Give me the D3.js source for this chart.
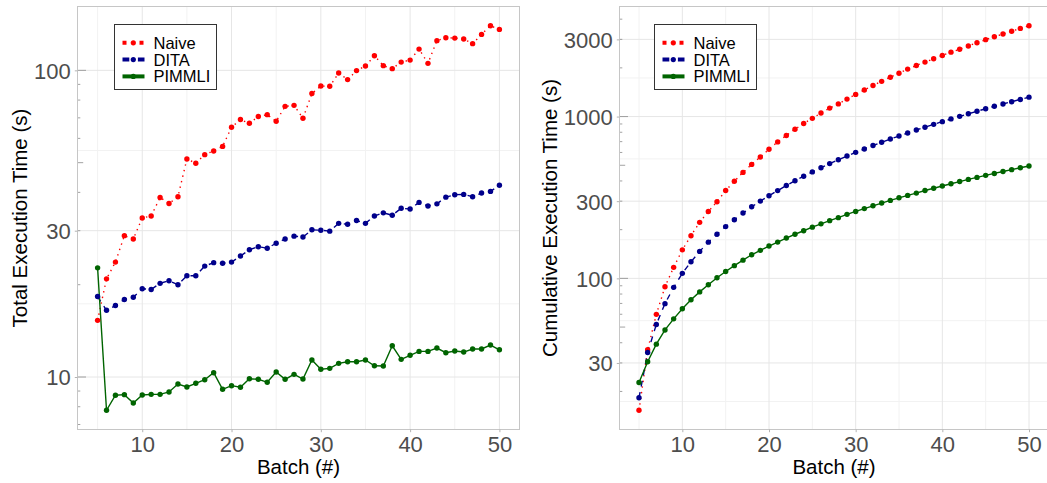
<!DOCTYPE html>
<html><head><meta charset="utf-8">
<script src="https://cdn.jsdelivr.net/npm/d3@7"></script>
<style>
body{margin:0;background:#fff}
svg{display:block}
text{font-family:"Liberation Sans",Arial,Helvetica,sans-serif}
</style>
</head><body>
<svg id="chart" width="1047" height="483"></svg>
<script>
// ---------------- data ----------------
const batches = [5,6,7,8,9,10,11,12,13,14,15,16,17,18,19,20,21,22,23,24,25,26,27,28,29,30,
  31,32,33,34,35,36,37,38,39,40,41,42,43,44,45,46,47,48,49,50];
const seriesNames = ["Naive","DITA","PIMMLI"];

const naiveTotal = [15.3,20.9,23.7,28.9,28.2,33.0,33.5,38.5,36.8,38.7,51.4,49.8,53.1,54.6,56.5,65.2,
  69.1,67.2,70.7,71.7,68.2,76.3,76.9,69.8,84.0,88.9,88.7,98.0,93.3,99.8,103.3,111.6,103.6,101.3,
  106.4,108.0,117.3,105.4,125.0,127.8,127.4,126.5,122.2,131.0,139.8,136.0];
const ditaTotal = [18.3,16.5,17.1,17.9,18.2,19.4,19.3,20.2,20.6,20.0,21.4,21.4,23.0,23.6,23.5,23.7,
  24.8,26.0,26.6,26.3,27.3,28.2,28.8,28.6,30.2,30.1,29.9,31.7,31.5,32.4,31.7,33.5,34.3,33.7,
  35.5,35.3,37.1,36.1,36.7,38.6,39.3,39.4,38.7,39.8,40.3,42.2];
const pimmliTotal = [22.7,7.79,8.72,8.76,8.23,8.74,8.78,8.78,8.94,9.49,9.28,9.54,9.80,10.33,9.12,9.37,
  9.26,9.87,9.83,9.61,10.38,9.83,10.20,9.85,11.36,10.60,10.67,11.08,11.21,11.22,11.36,10.88,10.86,
  12.64,11.42,11.77,12.12,12.12,12.43,12.00,12.15,12.06,12.34,12.34,12.71,12.27];

const naiveCum = [15.3,36.2,59.9,88.8,117.0,150.0,183.5,222.0,258.8,297.5,348.9,398.7,451.8,506.4,
  562.9,628.1,697.2,764.4,835.1,906.8,975.0,1051.3,1128.2,1198.0,1282.0,1370.9,1459.6,1557.6,1650.9,
  1750.7,1854.0,1965.6,2069.2,2170.5,2276.9,2384.9,2502.2,2607.6,2732.6,2860.4,2987.8,3114.3,3236.5,
  3367.5,3507.3,3643.3];
const ditaCum = [18.3,34.8,51.9,69.8,88.0,107.4,126.6,146.8,167.4,187.5,208.9,230.3,253.3,276.9,
  300.4,324.1,348.8,374.8,401.4,427.7,455.0,483.2,512.0,540.6,570.8,600.9,630.8,662.5,694.0,726.4,
  758.0,791.6,825.9,859.6,895.0,930.4,967.4,1003.5,1040.2,1078.8,1118.0,1157.4,1196.1,1235.9,
  1276.2,1318.4];
const pimmliCum = [22.7,30.5,39.2,48.0,56.2,64.9,73.7,82.5,91.4,100.9,110.2,119.8,129.6,139.9,149.0,
  158.4,167.6,177.5,187.3,196.9,207.3,217.2,227.4,237.2,248.6,259.2,269.8,280.9,292.1,303.3,314.7,
  325.6,336.4,349.1,360.5,372.3,384.4,396.5,408.9,420.9,433.1,445.2,457.5,469.8,482.5,494.8];

const xTicks = [10,20,30,40,50];
const leftYTicks = [10,30,100];
const rightYTicks = [30,100,300,1000,3000];
const xTitle = "Batch (#)";
const leftYTitle = "Total Execution Time (s)";
const rightYTitle = "Cumulative Execution Time (s)";

// ---------------- styles ----------------
const seriesStyle = {
  Naive:  {color:"#ff0000", dash:"1.4,4.3", keyDash:"4,13", lw:1.4},
  DITA:   {color:"#00008b", dash:"5.7,5.7", keyDash:"6.8,8.6", lw:1.4},
  PIMMLI: {color:"#006400", dash:null, keyDash:null, lw:1.4}
};
const W = 1047, H = 483;
const svg = d3.select("#chart");

function drawPanel(cfg) {
  const g = svg.append("g");
  const xmin = d3.min(batches), xmax = d3.max(batches);
  const xpad = 0.05 * (xmax - xmin);
  const x = d3.scaleLinear().domain([xmin - xpad, xmax + xpad]).range([cfg.x0, cfg.x1]);
  const all = cfg.series.flatMap(s => s.values);
  const lo = Math.log10(d3.min(all)), hi = Math.log10(d3.max(all));
  const ypad = 0.05 * (hi - lo);
  const y = d3.scaleLog().domain([10 ** (lo - ypad), 10 ** (hi + ypad)]).range([cfg.y1, cfg.y0]);
  const [dlo, dhi] = y.domain();
  const inY = v => v >= dlo && v <= dhi;

  // background
  g.append("rect").attr("x", cfg.x0).attr("y", cfg.y0)
    .attr("width", cfg.x1 - cfg.x0).attr("height", cfg.y1 - cfg.y0).attr("fill", "#fff");

  // minor grid
  const fullBreaks = [];
  for (let k = -1; k <= 5; k++) { fullBreaks.push(10 ** k, 3 * 10 ** k); }
  const yMinor = [];
  for (let i = 0; i < fullBreaks.length - 1; i++) yMinor.push(Math.sqrt(fullBreaks[i] * fullBreaks[i + 1]));
  const step = xTicks[1] - xTicks[0];
  const xMinor = [xTicks[0] - step / 2].concat(xTicks.map(t => t + step / 2))
    .filter(v => v >= x.domain()[0] && v <= x.domain()[1]);

  const grid = g.append("g");
  grid.selectAll(".ymin").data(yMinor.filter(inY)).join("line")
    .attr("x1", cfg.x0).attr("x2", cfg.x1).attr("y1", d => y(d)).attr("y2", d => y(d))
    .attr("stroke", "#f2f2f2").attr("stroke-width", 1);
  grid.selectAll(".xmin").data(xMinor).join("line")
    .attr("y1", cfg.y0).attr("y2", cfg.y1).attr("x1", d => x(d)).attr("x2", d => x(d))
    .attr("stroke", "#f2f2f2").attr("stroke-width", 1);
  grid.selectAll(".ymaj").data(cfg.yTicks.filter(inY)).join("line")
    .attr("x1", cfg.x0).attr("x2", cfg.x1).attr("y1", d => y(d)).attr("y2", d => y(d))
    .attr("stroke", "#e6e6e6").attr("stroke-width", 1);
  grid.selectAll(".xmaj").data(xTicks).join("line")
    .attr("y1", cfg.y0).attr("y2", cfg.y1).attr("x1", d => x(d)).attr("x2", d => x(d))
    .attr("stroke", "#e6e6e6").attr("stroke-width", 1);

  // clip
  const clipId = "clip" + cfg.id;
  svg.append("clipPath").attr("id", clipId).append("rect")
    .attr("x", cfg.x0).attr("y", cfg.y0).attr("width", cfg.x1 - cfg.x0).attr("height", cfg.y1 - cfg.y0);
  const data = g.append("g").attr("clip-path", `url(#${clipId})`);

  const line = d3.line().x(d => x(d.b)).y(d => y(d.v));
  cfg.series.forEach(s => {
    const st = seriesStyle[s.name];
    data.append("path").datum(batches.map((b, i) => ({b, v: s.values[i]})))
      .attr("d", line).attr("fill", "none").attr("stroke", st.color)
      .attr("stroke-width", st.lw).attr("stroke-dasharray", st.dash);
  });
  cfg.series.forEach(s => {
    const st = seriesStyle[s.name];
    data.append("g").selectAll("circle").data(batches.map((b, i) => ({b, v: s.values[i]}))).join("circle")
      .attr("cx", d => x(d.b)).attr("cy", d => y(d.v)).attr("r", 2.7).attr("fill", st.color);
  });

  // log ticks (left side, inside)
  const lt = g.append("g");
  const logTicks = [];
  for (let k = -1; k <= 5; k++) for (let m = 1; m <= 9; m++) {
    const v = m * 10 ** k;
    if (inY(v)) logTicks.push({v, len: m === 1 ? 8.5 : (m === 5 ? 5.7 : 2.8)});
  }
  lt.selectAll("line").data(logTicks).join("line")
    .attr("x1", cfg.x0).attr("x2", d => cfg.x0 + d.len)
    .attr("y1", d => y(d.v)).attr("y2", d => y(d.v))
    .attr("stroke", "#8c8c8c").attr("stroke-width", 0.8);

  // border
  g.append("rect").attr("x", cfg.x0).attr("y", cfg.y0)
    .attr("width", cfg.x1 - cfg.x0).attr("height", cfg.y1 - cfg.y0)
    .attr("fill", "none").attr("stroke", "#c6c6c6").attr("stroke-width", 1);

  // axes
  const yAxis = d3.axisLeft(y).tickValues(cfg.yTicks).tickFormat(d3.format("d"))
    .tickSizeInner(2.7).tickSizeOuter(0).tickPadding(4);
  const ya = g.append("g").attr("transform", `translate(${cfg.x0},0)`).call(yAxis);
  const xAxis = d3.axisBottom(x).tickValues(xTicks).tickFormat(d3.format("d"))
    .tickSizeInner(2.7).tickSizeOuter(0).tickPadding(4);
  const xa = g.append("g").attr("transform", `translate(0,${cfg.y1})`).call(xAxis);
  [ya, xa].forEach(a => {
    a.select(".domain").remove();
    a.selectAll(".tick line").attr("stroke", "#b3b3b3");
    a.selectAll(".tick text").attr("fill", "#4d4d4d").style("font-size", "22px")
      .style("font-family", '"Liberation Sans",Arial,sans-serif');
  });
  ya.selectAll(".tick text").attr("dy", "0.36em");
  xa.selectAll(".tick text").attr("dy", "0.71em").attr("y", 7);

  // titles
  g.append("text").attr("x", (cfg.x0 + cfg.x1) / 2).attr("y", 474)
    .attr("text-anchor", "middle").style("font-size", "20.5px").attr("fill", "#000").text(xTitle);
  g.append("text").attr("transform", `translate(${cfg.titleX},${(cfg.y0 + cfg.y1) / 2}) rotate(-90)`)
    .attr("text-anchor", "middle").style("font-size", "20.5px").attr("fill", "#000").text(cfg.yTitle);

  // legend
  const lg = g.append("g").attr("transform", `translate(${cfg.legX},24.5)`);
  lg.append("rect").attr("x", 0).attr("y", 0).attr("width", 102).attr("height", 65)
    .attr("fill", "#fff").attr("stroke", "#333").attr("stroke-width", 1);
  seriesNames.forEach((n, i) => {
    const st = seriesStyle[n];
    const cy = 18.3 + i * 16.8;
    lg.append("line").attr("x1", 8).attr("x2", 30).attr("y1", cy).attr("y2", cy)
      .attr("stroke", st.color).attr("stroke-width", 4).attr("stroke-dasharray", st.keyDash);
    lg.append("circle").attr("cx", 18.8).attr("cy", cy).attr("r", 2.6).attr("fill", st.color);
    lg.append("text").attr("x", 39).attr("y", cy + 6).style("font-size", "16.5px")
      .attr("fill", "#000").text(n);
  });
}

drawPanel({
  id: "L", x0: 77.5, x1: 519.5, y0: 6.5, y1: 429.5, titleX: 27, legX: 114.5,
  yTicks: leftYTicks, yTitle: leftYTitle,
  series: [{name: "Naive", values: naiveTotal}, {name: "DITA", values: ditaTotal}, {name: "PIMMLI", values: pimmliTotal}]
});
drawPanel({
  id: "R", x0: 619.5, x1: 1048.5, y0: 6.5, y1: 429.5, titleX: 556.5, legX: 654.5,
  yTicks: rightYTicks, yTitle: rightYTitle,
  series: [{name: "Naive", values: naiveCum}, {name: "DITA", values: ditaCum}, {name: "PIMMLI", values: pimmliCum}]
});
</script>
</body></html>
